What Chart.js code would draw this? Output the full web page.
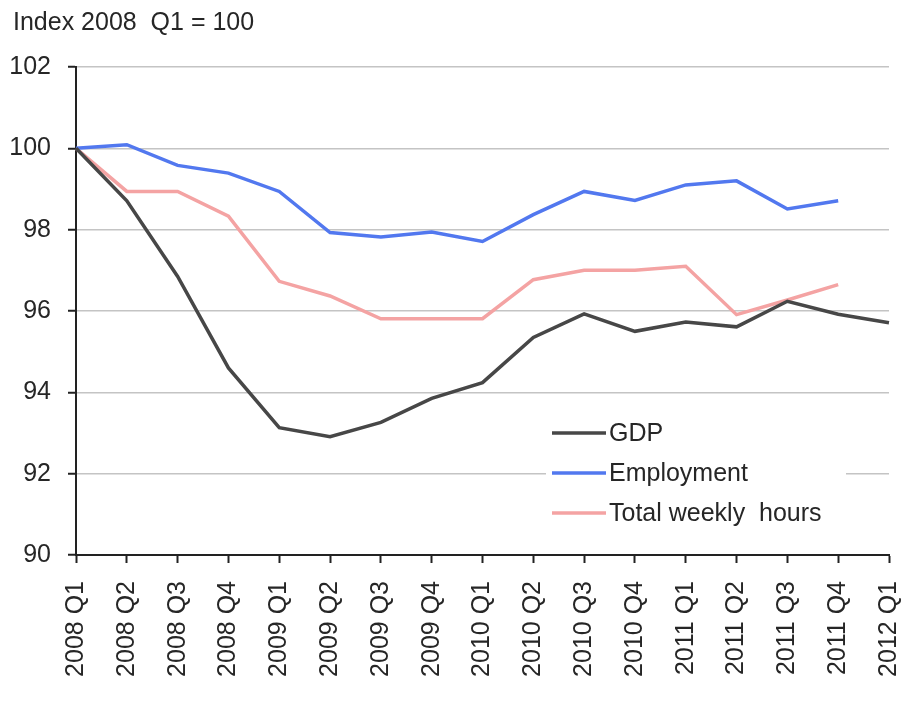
<!DOCTYPE html>
<html>
<head>
<meta charset="utf-8">
<script src="https://cdn.jsdelivr.net/npm/chart.js@4.4.1/dist/chart.umd.min.js"></script>
<style>
  html, body { margin: 0; padding: 0; background: #fff; }
  #wrap { width: 915px; height: 711px; }
</style>
</head>
<body>
<div id="wrap"><canvas id="chart" width="915" height="711"></canvas></div>
<script>
const quarters = ['2008 Q1', '2008 Q2', '2008 Q3', '2008 Q4', '2009 Q1', '2009 Q2', '2009 Q3', '2009 Q4',
  '2010 Q1', '2010 Q2', '2010 Q3', '2010 Q4', '2011 Q1', '2011 Q2', '2011 Q3', '2011 Q4', '2012 Q1'];
const gdp = [100, 98.71, 96.85, 94.6, 93.13, 92.91, 93.26, 93.85, 94.24, 95.35, 95.93, 95.5, 95.73, 95.61, 96.24, 95.92, 95.71];
const employment = [100, 100.09, 99.58, 99.39, 98.94, 97.93, 97.82, 97.94, 97.71, 98.37, 98.94, 98.72, 99.1, 99.2, 98.51, 98.71];
const weeklyHours = [100, 98.94, 98.94, 98.33, 96.73, 96.37, 95.81, 95.81, 95.81, 96.77, 97.0, 97.0, 97.1, 95.91, 96.27, 96.65];
const yTicks = [90, 92, 94, 96, 98, 100, 102];
const titleText = 'Index 2008  Q1 = 100';

// pick the narrow face if it is installed, the reference text is condensed
const hasNarrow = (() => {
  const c = document.createElement('canvas').getContext('2d');
  c.font = '40px monospace';
  const a = c.measureText('Index 2008 Q1').width;
  c.font = '40px "Liberation Sans Narrow", monospace';
  return c.measureText('Index 2008 Q1').width !== a;
})();
const fontFamily = hasNarrow ? '"Liberation Sans Narrow", "Liberation Sans", Arial, sans-serif'
                             : '"Liberation Sans", Arial, sans-serif';
const fontSize = hasNarrow ? 28 : 25;
const textColor = '#262626';

Chart.defaults.font.family = fontFamily;
Chart.defaults.font.size = fontSize;
Chart.defaults.color = textColor;

const overlay = {
  id: 'overlay',
  afterDraw(chart) {
    const ctx = chart.ctx;
    ctx.save();
    ctx.font = `${fontSize}px ${fontFamily}`;
    ctx.fillStyle = textColor;
    ctx.textBaseline = 'middle';
    ctx.textAlign = 'left';
    ctx.fillText(titleText, 13, 23);

    // legend box inside the plot
    ctx.fillStyle = '#fff';
    ctx.fillRect(546, 408, 300, 130);
    chart.data.datasets.forEach((ds, i) => {
      const y = 433 + i * 40;
      ctx.strokeStyle = ds.borderColor;
      ctx.lineWidth = 3.5;
      ctx.beginPath();
      ctx.moveTo(552, y);
      ctx.lineTo(606, y);
      ctx.stroke();
      ctx.fillStyle = textColor;
      ctx.fillText(ds.label, 609, y + 1);
    });
    ctx.restore();
  }
};

new Chart(document.getElementById('chart'), {
  type: 'line',
  data: {
    labels: quarters,
    datasets: [
      { label: 'GDP', data: gdp, borderColor: '#474747' },
      { label: 'Employment', data: employment, borderColor: '#5278ef' },
      { label: 'Total weekly  hours', data: weeklyHours, borderColor: '#f4a3a3' },
    ].map((d) => ({ ...d, borderWidth: 3.5, pointRadius: 0, tension: 0, fill: false })),
  },
  options: {
    responsive: false,
    animation: false,
    layout: { padding: { top: 67, right: 26, left: 0, bottom: 0 } },
    plugins: {
      legend: { display: false },
      title: { display: false },
      tooltip: { enabled: false },
    },
    scales: {
      x: {
        offset: false,
        grid: { drawOnChartArea: false, drawTicks: true, tickLength: 8, tickColor: '#222', tickWidth: 2 },
        border: { display: true, color: '#222', width: 2 },
        ticks: { autoSkip: false, minRotation: 90, maxRotation: 90, padding: 18, color: textColor },
        afterFit: (scale) => {
          scale.height = 156;
          scale.paddingLeft = 0;
          scale.paddingRight = 0;
        },
      },
      y: {
        min: 90,
        max: 102,
        afterBuildTicks: (scale) => { scale.ticks = yTicks.map((v) => ({ value: v })); },
        grid: { color: '#c4c4c4', lineWidth: 1.5, tickLength: 8, tickColor: '#222', tickWidth: 2 },
        border: { display: true, color: '#222', width: 2 },
        ticks: { padding: 17, color: textColor },
        afterFit: (scale) => { scale.width = 76; },
      },
    },
  },
  plugins: [overlay],
});
</script>
</body>
</html>
